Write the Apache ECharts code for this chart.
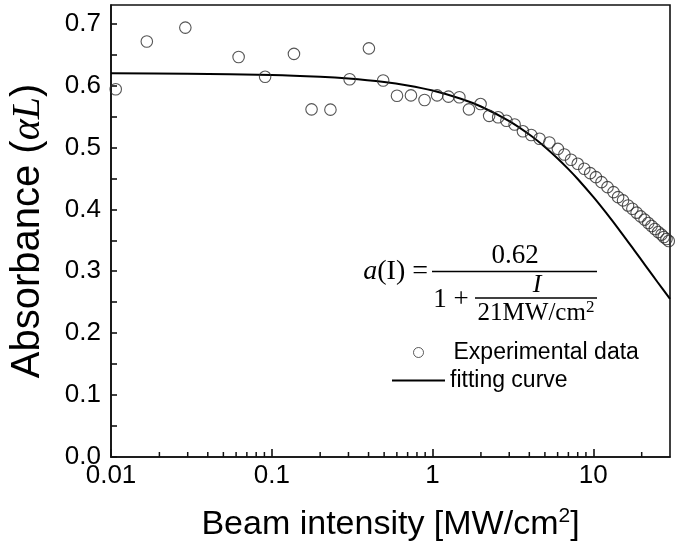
<!DOCTYPE html>
<html>
<head>
<meta charset="utf-8">
<script src="https://cdn.jsdelivr.net/npm/echarts@6/dist/echarts.min.js"></script>
<style>html,body{margin:0;padding:0;background:#fff;}#chart{width:675px;height:554px;}</style>
</head>
<body>
<div id="chart"></div>
<script>
// Experimental data (beam intensity in MW/cm^2, absorbance alpha*L)
const expX = [0.0107,0.0167,0.029,0.0622,0.0909,0.1374,0.1768,0.2317,0.305,0.402,0.493,0.601,0.734,0.892,1.068,1.256,1.469,1.684,1.99,2.25,2.56,2.88,3.24,3.65,4.11,4.63,5.33,
  6.02,6.61,7.27,8.0,8.79,9.57,10.38,11.25,12.26,13.36,14.26,15.31,16.44,17.5,18.6,19.7,20.85,21.98,23.04,24.15,25.34,26.57,27.45,28.52,29.47];
const expY = [0.594,0.671,0.6935,0.646,0.614,0.651,0.5615,0.561,0.610,0.660,0.608,0.5835,0.584,0.5766,0.584,0.582,0.581,0.5615,0.570,0.551,0.5486,0.543,0.537,0.526,0.520,0.514,0.508,
  0.4977,0.4885,0.480,0.4735,0.4655,0.4584,0.452,0.4439,0.4358,0.4278,0.4197,0.4144,0.4063,0.401,0.3946,0.3886,0.3833,0.3778,0.373,0.3682,0.3633,0.3592,0.3553,0.352,0.3488];
// Fitting curve
const fitX = [0.01,0.03,0.1,0.2,0.3,0.5,0.7,1,1.5,2,3,4,5,6,7,8,10,12,15,18,21,25,30];
const fitY = [0.6197,0.6191,0.6171,0.6142,0.6113,0.6056,0.6000,0.5918,0.5787,0.5661,0.5425,0.5208,0.5008,0.4822,0.465,0.449,0.420,0.3945,0.3617,0.3338,0.310,0.283,0.2553];
// Minor tick positions on the log x axis
const minorTickX = [0.02,0.03,0.04,0.05,0.06,0.07,0.08,0.09,0.2,0.3,0.4,0.5,0.6,0.7,0.8,0.9,2,3,4,5,6,7,8,9,20];
const seriesNames = ['Experimental data','fitting curve'];

const chart = echarts.init(document.getElementById('chart'), null, {renderer:'canvas'});
const sans = 'Liberation Sans, Arial, sans-serif';
const serif = 'Liberation Serif, Times New Roman, serif';
const option = {
  backgroundColor: '#fff',
  animation: false,
  grid: {left: 107, right: 5, top: 5, bottom: 97, show: true, borderColor: '#111', borderWidth: 1.6, backgroundColor: 'transparent'},
  xAxis: {
    type: 'log', logBase: 10, min: 0.01, max: 30,
    name: 'Beam intensity [MW/cm{sup|2}]', nameLocation: 'middle', nameGap: 49,
    nameTextStyle: {fontFamily: sans, fontSize: 34, color: '#000',
      rich: {sup: {fontFamily: sans, fontSize: 21, color: '#000', padding: [0,0,17,0]}}},
    axisLine: {lineStyle: {color: '#111', width: 1.6}},
    axisTick: {inside: true, length: 8, lineStyle: {color: '#111', width: 1.6}},
    axisLabel: {fontFamily: sans, fontSize: 26, color: '#000', margin: 6, showMaxLabel: false,
      formatter: v => (Math.abs(Math.log10(v) - Math.round(Math.log10(v))) < 1e-6 ? String(+v.toPrecision(3)) : '')},
    splitLine: {show: false}
  },
  yAxis: {
    type: 'value', min: 0, max: 0.73, interval: 0.05,
    name: 'Absorbance ({i|αL})', nameLocation: 'middle', nameGap: 63,
    nameTextStyle: {fontFamily: sans, fontSize: 40, color: '#000',
      rich: {i: {fontFamily: serif, fontStyle: 'italic', fontSize: 40, color: '#000'}}},
    axisLine: {show: true, lineStyle: {color: '#111', width: 1.6}},
    axisTick: {inside: true, length: 6, lineStyle: {color: '#111', width: 1.6}},
    axisLabel: {fontFamily: sans, fontSize: 26, color: '#000', margin: 10, showMaxLabel: false,
      formatter: v => (Math.round(v * 100) % 10 === 0 ? v.toFixed(1) : '')},
    splitLine: {show: false}
  },
  legend: [
    {data: [{name: seriesNames[0], icon: 'circle', itemStyle: {color: 'rgba(0,0,0,0)', borderColor: '#333', borderWidth: 1}}],
     left: 413, top: 341, padding: 0, itemWidth: 10, itemHeight: 10, selectedMode: false,
     textStyle: {fontFamily: sans, fontSize: 23, color: '#000', padding: [0,0,0,25]}},
    {data: [{name: seriesNames[1], icon: 'rect'}],
     left: 392, top: 369, padding: 0, itemWidth: 53, itemHeight: 2, selectedMode: false,
     textStyle: {fontFamily: sans, fontSize: 23, color: '#000'}}
  ],
  series: [
    {name: seriesNames[1], type: 'line', data: fitX.map((x, i) => [x, fitY[i]]), smooth: 0.3,
     showSymbol: false, lineStyle: {color: '#000', width: 2}, itemStyle: {color: '#000'}, z: 2},
    {name: seriesNames[0], type: 'scatter', data: expX.map((x, i) => [x, expY[i]]), symbol: 'circle', symbolSize: 11.5,
     itemStyle: {color: 'rgba(0,0,0,0)', borderColor: '#2a2a2a', borderWidth: 1.1}, z: 3},
    {type: 'custom', silent: true, data: minorTickX.map(x => [x, 0]), z: 4,
     renderItem: (params, api) => {
       const p = api.coord([api.value(0), 0]);
       return {type: 'line', shape: {x1: p[0], y1: p[1], x2: p[0], y2: p[1] - 5}, style: {stroke: '#111', lineWidth: 1.5}};
     }}
  ],
  graphic: [
    {type: 'text', x: 428, y: 272, style: {text: '{i|a}(I) =', align: 'right', verticalAlign: 'middle', font: '28px ' + serif, fill: '#000',
      rich: {i: {fontStyle: 'italic', fontFamily: serif, fontSize: 28}}}},
    {type: 'line', shape: {x1: 432, y1: 271.5, x2: 597, y2: 271.5}, style: {stroke: '#000', lineWidth: 1.3}},
    {type: 'text', x: 515, y: 256, style: {text: '0.62', align: 'center', verticalAlign: 'middle', font: '27px ' + serif, fill: '#000'}},
    {type: 'text', x: 451, y: 300, style: {text: '1 +', align: 'center', verticalAlign: 'middle', font: '27px ' + serif, fill: '#000'}},
    {type: 'line', shape: {x1: 475, y1: 298, x2: 597, y2: 298}, style: {stroke: '#000', lineWidth: 1.3}},
    {type: 'text', x: 537, y: 285, style: {text: 'I', align: 'center', verticalAlign: 'middle', font: 'italic 26px ' + serif, fill: '#000'}},
    {type: 'text', x: 536, y: 313, style: {text: '21MW/cm{s|2}', align: 'center', verticalAlign: 'middle', font: '25px ' + serif, fill: '#000',
      rich: {s: {fontFamily: serif, fontSize: 17, padding: [0,0,10,0]}}}}
  ]
};
chart.setOption(option);
</script>
</body>
</html>
